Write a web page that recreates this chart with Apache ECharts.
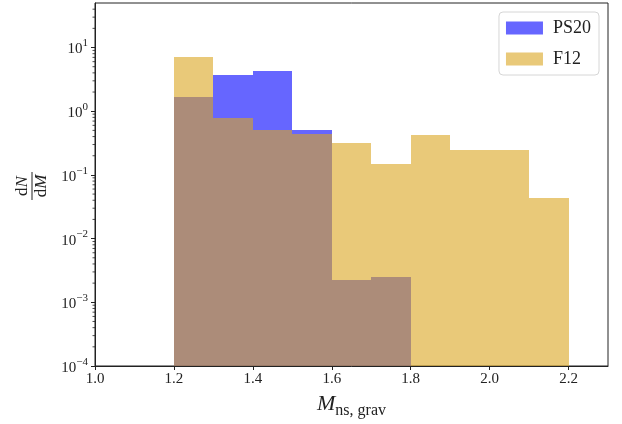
<!DOCTYPE html>
<html>
<head>
<meta charset="utf-8">
<script src="https://cdn.jsdelivr.net/npm/echarts@6/dist/echarts.min.js"></script>
<style>
  html, body { margin: 0; padding: 0; background: #fff; }
  #main { width: 622px; height: 424px; }
</style>
</head>
<body>
<div id="main"></div>
<script>
// bin edges of the histogram (M_ns,grav)
const binEdges = [1.2, 1.3, 1.4, 1.5, 1.6, 1.7, 1.8, 1.9, 2.0, 2.1, 2.2];
// dN/dM per bin
const ps20Values = [1.65, 3.75, 4.3, 0.51, 0.0022, 0.0025, 0, 0, 0, 0];
const f12Values = [7.1, 0.78, 0.51, 0.44, 0.32, 0.15, 0.42, 0.25, 0.25, 0.043];

const xTicks = [1.0, 1.2, 1.4, 1.6, 1.8, 2.0, 2.2];
const yTicks = [1e-4, 1e-3, 1e-2, 1e-1, 1, 10];
const X_MIN = 1.0, X_MAX = 2.3, Y_MIN = 1e-4, Y_MAX = 50;

// minor ticks for the log axis (2..9 in every decade)
const yMinor = [];
for (let e = -4; e <= 1; e++) {
  for (let m = 2; m <= 9; m++) {
    const v = m * Math.pow(10, e);
    if (v < Y_MAX) yMinor.push(v);
  }
}

const serif = "'Liberation Serif', 'DejaVu Serif', serif";

function histData(values) {
  const out = [];
  values.forEach((v, i) => {
    if (v > 0) out.push([binEdges[i], binEdges[i + 1], v]);
  });
  return out;
}

// snap to whole pixels so neighbouring bins don't leave light seams
function renderBar(params, api) {
  const p0 = api.coord([api.value(0), api.value(2)]);
  const p1 = api.coord([api.value(1), Y_MIN]);
  const x0 = Math.round(p0[0]), x1 = Math.round(p1[0]);
  const y0 = Math.round(p0[1]), y1 = Math.round(p1[1]);
  return {
    type: 'rect',
    shape: { x: x0, y: y0, width: x1 - x0, height: y1 - y0 },
    style: { fill: api.visual('color') }
  };
}

const chart = echarts.init(document.getElementById('main'));

const fracRich = {
  d: { fontFamily: serif, fontSize: 17, fill: '#222' },
  i: { fontFamily: serif, fontSize: 17, fontStyle: 'italic', fill: '#222' }
};

chart.setOption({
  animation: false,
  backgroundColor: '#fff',
  grid: {
    left: 95, right: 14, top: 3, bottom: 54,
    show: true, borderColor: '#222', borderWidth: 1
  },
  legend: {
    right: 23, top: 12,
    orient: 'vertical',
    itemWidth: 37, itemHeight: 13, itemGap: 13,
    padding: [7, 8, 7, 7],
    borderColor: '#d6d6d6', borderWidth: 1, borderRadius: 4,
    backgroundColor: 'rgba(255,255,255,0.8)',
    icon: 'rect',
    textStyle: { fontFamily: serif, fontSize: 18, color: '#222', padding: [0, 0, 0, 5] },
    data: ['PS20', 'F12']
  },
  xAxis: {
    type: 'value', min: X_MIN, max: X_MAX, interval: 0.2,
    name: '{i|M}{s|ns, grav}',
    nameLocation: 'middle', nameGap: 27,
    nameTextStyle: {
      rich: {
        i: { fontFamily: serif, fontStyle: 'italic', fontSize: 22, color: '#222', lineHeight: 26, verticalAlign: 'top' },
        s: { fontFamily: serif, fontSize: 16, color: '#222', lineHeight: 26, verticalAlign: 'bottom', padding: [7, 0, 0, 0] }
      }
    },
    splitLine: { show: false },
    axisLine: { onZero: false, lineStyle: { color: '#222' } },
    axisTick: { length: 4, customValues: xTicks, lineStyle: { color: '#222' } },
    axisLabel: {
      customValues: xTicks,
      fontFamily: serif, fontSize: 15, color: '#222', margin: 6,
      formatter: v => v.toFixed(1)
    }
  },
  yAxis: {
    type: 'log', min: Y_MIN, max: Y_MAX, logBase: 10,
    splitLine: { show: false },
    axisLine: { lineStyle: { color: '#222' } },
    axisTick: { length: 4, customValues: yTicks, lineStyle: { color: '#222' } },
    axisLabel: {
      customValues: yTicks,
      margin: 7,
      formatter: v => {
        const n = Math.round(Math.log10(v));
        return '{b|10}{s|' + (n < 0 ? '\u2212' + (-n) : n) + '}';
      },
      rich: {
        b: { fontFamily: serif, fontSize: 15, color: '#222', lineHeight: 19, verticalAlign: 'bottom' },
        s: { fontFamily: serif, fontSize: 11, color: '#222', lineHeight: 19, verticalAlign: 'top' }
      }
    }
  },
  graphic: [{
    type: 'group',
    x: 32, y: 186, rotation: Math.PI / 2,
    children: [
      { type: 'text', x: 0, y: -9, style: { text: '{d|d}{i|N}', align: 'center', verticalAlign: 'middle', rich: fracRich } },
      { type: 'line', shape: { x1: -14, y1: 0, x2: 14, y2: 0 }, style: { stroke: '#222', lineWidth: 1 } },
      { type: 'text', x: 0, y: 10, style: { text: '{d|d}{i|M}', align: 'center', verticalAlign: 'middle', rich: fracRich } }
    ]
  }],
  series: [
    {
      name: 'PS20', type: 'custom', renderItem: renderBar,
      itemStyle: { color: 'rgba(0,0,255,0.6)' },
      encode: { x: [0, 1], y: 2 },
      data: histData(ps20Values), z: 2
    },
    {
      name: 'F12', type: 'custom', renderItem: renderBar,
      itemStyle: { color: 'rgba(218,165,32,0.6)' },
      encode: { x: [0, 1], y: 2 },
      data: histData(f12Values), z: 3
    },
    {
      // minor ticks of the log y axis
      name: 'minor', type: 'custom', clip: false, silent: true,
      encode: { y: 0 },
      renderItem: (params, api) => {
        const p = api.coord([X_MIN, api.value(0)]);
        return {
          type: 'line',
          shape: { x1: p[0] - 2.5, y1: p[1], x2: p[0], y2: p[1] },
          style: { stroke: '#222', lineWidth: 0.8 }
        };
      },
      data: yMinor.map(v => [v]),
      z: 5
    }
  ]
});
</script>
</body>
</html>
